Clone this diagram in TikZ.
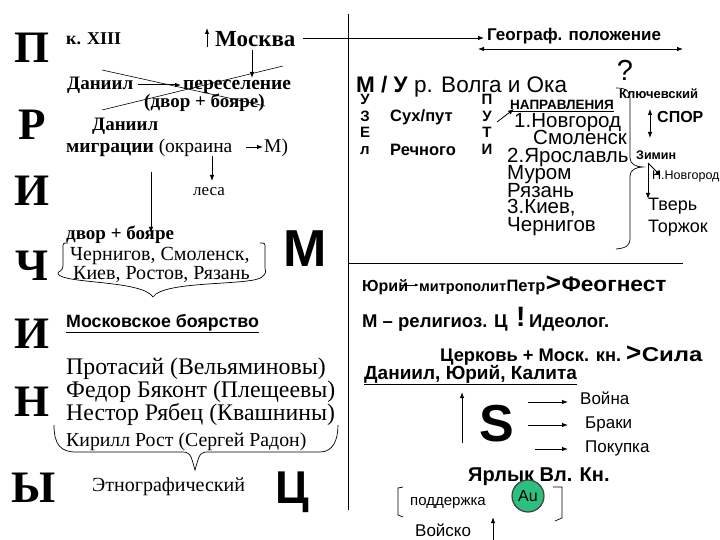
\documentclass[tikz,border=0pt]{standalone}
\usepackage{fontspec}
\setmainfont{Liberation Serif}
\setsansfont{Liberation Sans}
\usetikzlibrary{arrows.meta}
\newcommand\fsz[1]{\fontsize{#1}{#1}\selectfont}
\definecolor{augreen}{HTML}{2CBF7E}
\begin{document}
\begin{tikzpicture}[x=1pt,y=-1pt,
  tx/.style={inner sep=0pt,anchor=base west},
  tb/.style={inner sep=0pt,anchor=base},
  tc/.style={inner sep=0pt,anchor=center},
  arr/.style={-{Latex[length=6pt,width=4.5pt]},line width=1pt},
  darr/.style={{Latex[length=6pt,width=4.5pt]}-{Latex[length=6pt,width=4.5pt]},line width=1pt},
  ln/.style={line width=0.7pt},
  bigl/.style={inner sep=0pt,anchor=base,font=\bfseries\fsz{45}},
  vl/.style={tb,font=\sffamily\bfseries\fsz{15}},
]
\useasboundingbox (0,0) rectangle (720,540);
% left column letters
\node[bigl] (L1) at (32,63) {П};
\node[bigl] (L2) at (32,140) {Р};
\node[bigl] (L3) at (32,206) {И};
\node[bigl] (L4) at (32,280) {Ч};
\node[bigl] (L5) at (32,348) {И};
\node[bigl] (L6) at (32,416) {Н};
\node[bigl] (L7) at (34,502) {Ы};

% left texts
\node[tx,font=\bfseries\fsz{18}] (k13) at (66,45) {к. XIII};
\node[tx,font=\bfseries\fsz{23}] (msk) at (215,47) {Москва};
\coordinate (mu1) at (207,47); \coordinate (mu2) at (207,28);
\draw[arr] (mu1) -- (mu2);
\coordinate (mskR) at (303,38); \coordinate (geoA) at (484,38);
\draw[arr,line width=0.8pt] (mskR) -- (geoA);
\coordinate (md1) at (252,50); \coordinate (md2) at (252,78);
\draw[arr] (md1) -- (md2);

\node[tx,font=\bfseries\fsz{19}] (dan1) at (67,90) {Даниил};
\coordinate (da1) at (138,85); \coordinate (da2) at (181,85);
\draw[arr] (da1) -- (da2);
\node[tx,font=\bfseries\fsz{19.5}] (pere) at (183,90) {переселение};
\node[tx,font=\bfseries\fsz{19}] (dvor1) at (144,108) {(двор + бояре)};
\coordinate (x1a) at (102,70); \coordinate (x1b) at (265,106);
\coordinate (x2a) at (102,110); \coordinate (x2b) at (283,66);
\draw[line width=0.6pt] (x1a) -- (x1b);
\draw[line width=0.6pt] (x2a) -- (x2b);
\node[tx,font=\bfseries\fsz{19}] (dan2) at (92,131) {Даниил};
\node[tx,font=\fsz{19.5}] (migr) at (66,153) {\textbf{миграции} (окраина};
\coordinate (ma1) at (246,147); \coordinate (ma2) at (263,147);
\draw[arr,line width=0.8pt] (ma1) -- (ma2);
\node[tx,font=\fsz{19.5}] (M1) at (264,153) {М)};
\coordinate (la1) at (212,156); \coordinate (la2) at (212,181);
\draw[arr,line width=0.8pt] (la1) -- (la2);
\node[tx,font=\fsz{17}] (lesa) at (193,196) {леса};
\coordinate (lo1) at (151,172); \coordinate (lo2) at (151,233);
\draw[arr] (lo1) -- (lo2);
\node[tx,font=\bfseries\fsz{19}] (dvor2) at (66,240) {двор + бояре};
\node[tx,font=\fsz{20}] (cher) at (70,260) {Чернигов, Смоленск,};
\node[tx,font=\fsz{20}] (kiev) at (73,279) {Киев, Ростов, Рязань};
\draw[ln] (68,243) .. controls (63,243) .. (63,248) -- (63,266)
  .. controls (63,272) and (57,271) .. (58,274)
  .. controls (64,284) and (142,280) .. (153,297)
  .. controls (164,280) and (252,286) .. (262,277)
  .. controls (266,273) .. (265,268) -- (265,248) .. controls (265,243) .. (260,243);
\node[tb,font=\sffamily\bfseries\fsz{52}] (bigM) at (305,266) {М};
\node[tx,font=\sffamily\bfseries\fsz{17.8}] (mb) at (66,327) {\underline{Московское боярство}};
\node[tx,font=\fsz{23.8}] (prot) at (66,374) {Протасий (Вельяминовы)};
\node[tx,font=\fsz{23.8}] (fed) at (66,397) {Федор Бяконт (Плещеевы)};
\node[tx,font=\fsz{23.8}] (nes) at (66,420) {Нестор Рябец (Квашнины)};
\node[tx,font=\fsz{19.8}] (kir) at (66,446) {Кирилл Рост (Сергей Радон)};
\draw[ln] (54,425) .. controls (54,445) and (61,452) .. (76,452) -- (180,452)
  .. controls (190,452) .. (195,470) .. controls (200,452) .. (210,452)
  -- (320,452) .. controls (333,452) and (338,440) .. (338,425);
\node[tx,font=\fsz{20}] (etn) at (92,491) {Этнографический};
\node[tb,font=\sffamily\bfseries\fsz{46}] (bigC) at (292,503) {Ц};

% dividers
\coordinate (vt) at (348,14); \coordinate (vb) at (348,510);
\draw[line width=1pt] (vt) -- (vb);
\coordinate (hl) at (348,263); \coordinate (hr) at (683,263);
\draw[line width=1pt] (hl) -- (hr);

% top right
\node[tx,font=\sffamily\bfseries\fsz{17}] (geo) at (487,41) {Географ. положение};
\coordinate (g1) at (478,49); \coordinate (g2) at (683,49);
\draw[darr,line width=0.8pt] (g1) -- (g2);
\node[tc,font=\sffamily\fsz{29}] (q) at (625,70) {?};
\node[tx,font=\sffamily\fsz{22.5}] (volga) at (356,93) {\textbf{М / У} р. Волга и Ока};
\node[vl] (u1) at (365,105) {У};
\node[vl] (u2) at (365,122) {З};
\node[vl] (u3) at (365,138) {Е};
\node[vl] (u4) at (365,155) {л};
\node[tx,font=\sffamily\bfseries\fsz{16.5}] (sux) at (390,122) {Сух/пут};
\node[tx,font=\sffamily\bfseries\fsz{16.5}] (rech) at (390,156) {Речного};
\node[vl] (p1) at (487,105) {П};
\node[vl] (p2) at (487,122) {У};
\node[vl] (p3) at (487,138) {Т};
\node[vl] (p4) at (487,155) {И};
\coordinate (pa1) at (497,122); \coordinate (pa2) at (514,109);
\draw[arr,line width=0.8pt] (pa1) -- (pa2);
\node[tx,font=\sffamily\bfseries\fsz{13.5}] (napr) at (510,110) {\underline{НАПРАВЛЕНИЯ}};
\node[tx,font=\sffamily\fsz{20.5}] (n1) at (514,128) {1.Новгород};
\node[tx,font=\sffamily\fsz{20.5}] (n2) at (533,145) {Смоленск};
\node[tx,font=\sffamily\fsz{20.5}] (n3) at (507,163) {2.Ярославль};
\node[tx,font=\sffamily\fsz{20.5}] (n4) at (507,180) {Муром};
\node[tx,font=\sffamily\fsz{20.5}] (n5) at (507,197) {Рязань};
\node[tx,font=\sffamily\fsz{20.5}] (n6) at (507,214) {3.Киев,};
\node[tx,font=\sffamily\fsz{20.5}] (n7) at (507,231) {Чернигов};
\draw[ln] (616,88) .. controls (628,88) and (630,92) .. (630,100) -- (630,158)
  .. controls (630,164) and (636,167) .. (643,167)
  .. controls (636,167) and (630,170) .. (630,176) -- (630,238)
  .. controls (630,246) and (626,248) .. (616,249);
\node[tx,font=\sffamily\bfseries\fsz{13}] (klu) at (619,99) {Ключевский};
\coordinate (s1) at (650,109); \coordinate (s2) at (650,138);
\draw[darr,line width=0.8pt] (s1) -- (s2);
\node[tx,font=\sffamily\bfseries\fsz{16}] (spor) at (657,123) {СПОР};
\node[tx,font=\sffamily\bfseries\fsz{12.5}] (zim) at (636,160) {Зимин};
\coordinate (z0) at (648,163); \coordinate (z1) at (648,199); \coordinate (z2) at (661,176);
\draw[arr] (z0) -- (z1);
\draw[arr] (z0) -- (z2);
\node[tx,font=\sffamily\fsz{12.5}] (nn) at (652,180) {Н.Новгород};
\node[tx,font=\sffamily\fsz{18}] (tver) at (648,211) {Тверь};
\node[tx,font=\sffamily\fsz{18}] (torzh) at (648,233) {Торжок};

% bottom right
\node[tx,font=\sffamily\bfseries\fsz{16}] (yur) at (362,291) {Юрий};
\coordinate (ya1) at (400,285); \coordinate (ya2) at (419,285);
\draw[line width=0.7pt,-{Latex[length=4pt,width=3pt]}] (ya1) -- (ya2);
\node[tx,font=\sffamily\bfseries\fsz{14.5}] (mitr) at (419,291) {митрополит};
\node[tx,font=\sffamily\bfseries\fsz{16.5}] (petr) at (mitr.base east) {Петр};
\node[tx,font=\sffamily\bfseries\fsz{26}] (gt1) at (petr.base east) {>};
\node[tx,font=\sffamily\bfseries\fsz{21}] (feog) at (gt1.base east) {\scalebox{1.08}[1]{Феогнест}};
\node[tx,font=\sffamily\bfseries\fsz{18.5}] (rel) at (362,327) {М – религиоз. Ц};
\node[tx,font=\sffamily\bfseries\fsz{28}] (excl) at (516,326) {!};
\node[tx,font=\sffamily\bfseries\fsz{18.5}] (ideo) at (529,327) {Идеолог.};
\node[tx,font=\sffamily\bfseries\fsz{18.3}] (cerk) at (440,361) {Церковь + Моск. кн.};
\node[tx,font=\sffamily\bfseries\fsz{26}] (gt2) at (626,361) {>};
\node[tx,font=\sffamily\bfseries\fsz{20}] (sila) at (gt2.base east) {\scalebox{1.2}[1]{Сила}};
\node[tx,font=\sffamily\bfseries\fsz{19}] (dany) at (364,379) {\underline{Даниил, Юрий, Калита}};
\coordinate (up1) at (462,443); \coordinate (up2) at (462,392);
\draw[arr] (up1) -- (up2);
\node[tb,font=\sffamily\bfseries\fsz{52}] (S) at (497,441) {S};
\coordinate (w1) at (528,402); \coordinate (w2) at (568,402);
\coordinate (b1) at (528,425); \coordinate (b2) at (568,425);
\coordinate (k1) at (535,449); \coordinate (k2) at (568,449);
\draw[arr] (w1) -- (w2);
\draw[arr] (b1) -- (b2);
\draw[arr] (k1) -- (k2);
\node[tx,font=\sffamily\fsz{17}] (voina) at (580,404) {Война};
\node[tx,font=\sffamily\fsz{17}] (braki) at (585,428) {Браки};
\node[tx,font=\sffamily\fsz{17}] (pokup) at (585,452) {Покупка};
\node[tx,font=\sffamily\bfseries\fsz{20}] (yarl) at (468,481) {Ярлык Вл. Кн.};
\draw[ln] (403,487) -- (398,488) -- (398,515) -- (403,517);
\draw[ln] (553,487) -- (562,487) -- (562,518) -- (555,521);
\node[tx,font=\sffamily\fsz{15}] (podd) at (410,505) {поддержка};
\node[circle,draw=black!75,line width=1.2pt,fill=augreen,minimum size=32pt,inner sep=0pt,font=\sffamily\fsz{16}] (au) at (528,496) {Au};
\node[tx,font=\sffamily\fsz{17}] (voisko) at (415,536) {Войско};
\coordinate (va1) at (493,540); \coordinate (va2) at (493,517);
\draw[arr] (va1) -- (va2);
\end{tikzpicture}
\end{document}
